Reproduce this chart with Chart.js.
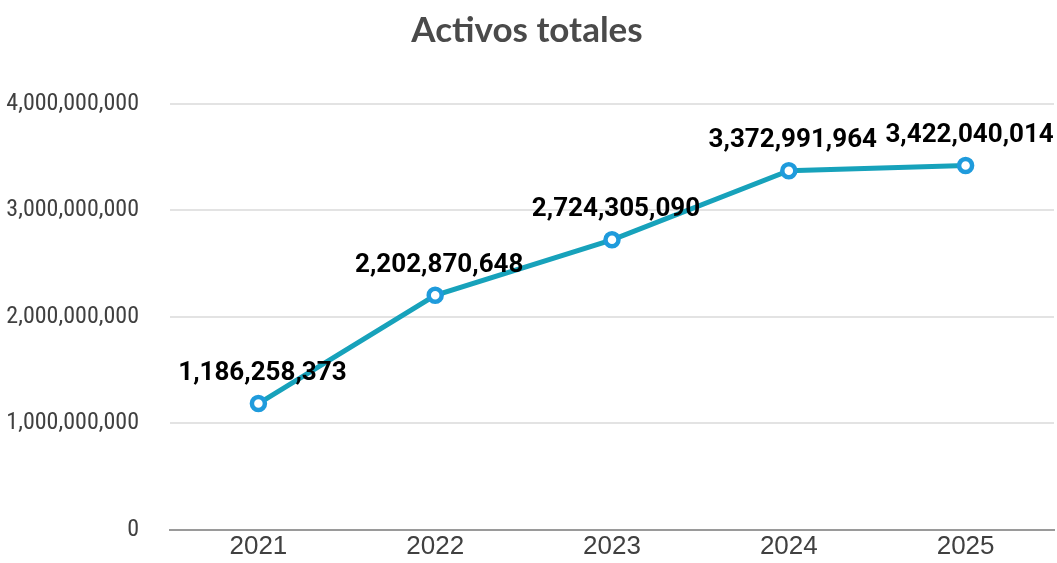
<!DOCTYPE html>
<html lang="es">
<head>
    <meta charset="UTF-8">
    <title>Activos totales</title>
    <script src="https://cdn.jsdelivr.net/npm/chart.js"></script>
    <style>
        html, body { margin: 0; padding: 0; background: #fff; }
        .wrap { width: 1057px; height: 563px; }
    </style>
</head>
<body>
<div class="wrap">
    <canvas id="activosChart" width="1057" height="563"></canvas>
</div>

<script>
    // Datos del gráfico
    var anios = ['2021', '2022', '2023', '2024', '2025'];
    var activos = [1186258373, 2202870648, 2724305090, 3372991964, 3422040014];
    var ticksY = [0, 1000000000, 2000000000, 3000000000, 4000000000];

    var fmt = function (v) { return Number(v).toLocaleString('en-US'); };

    // Etiquetas de valor encima de cada punto
    var etiquetas = {
        id: 'etiquetas',
        afterDatasetsDraw: function (chart) {
            var ctx = chart.ctx;
            var meta = chart.getDatasetMeta(0);
            ctx.save();
            ctx.font = 'bold 26px Roboto, "Liberation Sans", sans-serif';
            ctx.fillStyle = '#000';
            ctx.textAlign = 'center';
            ctx.textBaseline = 'middle';
            meta.data.forEach(function (pt, i) {
                ctx.fillText(fmt(activos[i]), pt.x + 4, pt.y - 30);
            });
            ctx.restore();
        }
    };

    var ctx = document.getElementById('activosChart').getContext('2d');
    new Chart(ctx, {
        type: 'line',
        data: {
            labels: anios,
            datasets: [{
                label: 'Activos totales',
                data: activos,
                borderColor: '#17a2bb',
                borderWidth: 5,
                pointRadius: 6.5,
                pointBorderWidth: 4.5,
                pointBorderColor: '#1f9bdc',
                pointBackgroundColor: '#ffffff',
                tension: 0
            }]
        },
        options: {
            responsive: false,
            animation: false,
            layout: { autoPadding: false, padding: { top: 0, right: 3, bottom: 0, left: 0 } },
            plugins: {
                legend: { display: false },
                tooltip: { enabled: false },
                title: {
                    display: true,
                    text: 'Activos totales',
                    color: '#4a4a4a',
                    font: { family: 'Lato, "Open Sans", sans-serif', size: 35, weight: 'bold' },
                    padding: { top: 10, bottom: 52 }
                }
            },
            scales: {
                x: {
                    offset: true,
                    grid: { display: false, offset: true, drawTicks: false },
                    border: { display: true, color: '#9a9a9a', width: 2 },
                    ticks: {
                        color: '#404040',
                        padding: 1,
                        maxRotation: 0,
                        autoSkip: false,
                        font: { family: '"Liberation Sans", Arial, sans-serif', size: 26 }
                    }
                },
                y: {
                    min: 0,
                    max: 4000000000,
                    afterBuildTicks: function (scale) {
                        scale.ticks = ticksY.map(function (v) { return { value: v }; });
                    },
                    afterFit: function (scale) {
                        scale.width = 170;
                        scale.paddingTop = 0;
                        scale.paddingBottom = 0;
                    },
                    border: { display: false },
                    grid: { color: '#e3e3e3', lineWidth: 2, drawTicks: false },
                    ticks: {
                        color: '#404040',
                        padding: 31,
                        font: { family: '"Liberation Sans Narrow", "Roboto Condensed", Roboto, sans-serif', size: 24 },
                        callback: function (v) { return fmt(v); }
                    }
                }
            }
        },
        plugins: [etiquetas]
    });
</script>
</body>
</html>
